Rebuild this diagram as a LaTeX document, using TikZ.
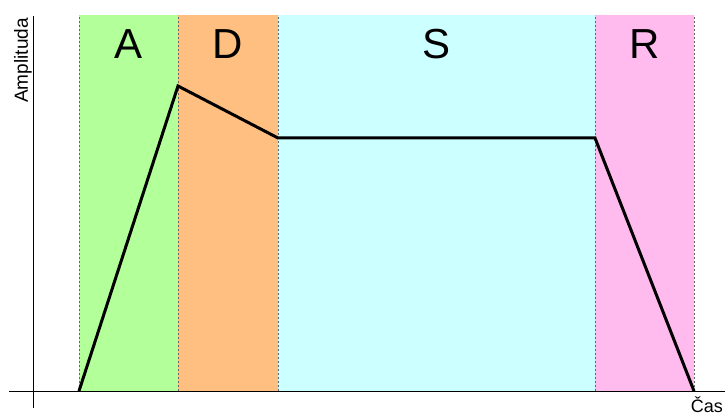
\documentclass[tikz,border=0pt]{standalone}
\usepackage{fontspec}
\setmainfont{Liberation Sans}
\usepackage{tikz}

\definecolor{attackgreen}{RGB}{179,255,153}
\definecolor{decayorange}{RGB}{255,191,128}
\definecolor{sustaincyan}{RGB}{204,255,255}
\definecolor{releasepink}{RGB}{255,187,238}

\tikzset{
  phaseedge/.style={gray!80!black, line width=0.6pt, dash pattern=on 2pt off 2pt},
  phaselabel/.style={anchor=base, inner sep=0pt, font=\fontsize{42}{48}\selectfont},
  axislabel/.style={inner sep=0pt, font=\fontsize{19}{22}\selectfont},
}

\begin{document}
\begin{tikzpicture}[x=1pt,y=1pt]
    \useasboundingbox (0,0) rectangle (725,414);
    % phases
    \fill[attackgreen] (79,23) rectangle (178,399);
    \fill[decayorange] (178,23) rectangle (278,399);
    \fill[sustaincyan] (278,23) rectangle (595,399);
    \fill[releasepink] (595,23) rectangle (694,399);
    \foreach \x in {79,178,278,595,694}
      \draw[phaseedge] (\x,23) -- (\x,399);
    \node[phaselabel] (attack) at (128.5,355) {A};
    \node[phaselabel] (decay) at (228,355) {D};
    \node[phaselabel] (sustain) at (436.5,355) {S};
    \node[phaselabel] (release) at (644.5,355) {R};
    % axes
    \draw[line width=0.9pt] (9,23) -- (725,23);
    \draw[line width=0.9pt] (33,6) -- (33,398);
    \node[axislabel, rotate=90, anchor=base east] (amplitude) at (28,396) {Amplituda};
    \node[axislabel, anchor=base east, font=\fontsize{18}{21}\selectfont] (time) at (723,1.5) {Čas};
    % envelope
    \coordinate (onset) at (79,23);
    \coordinate (peak) at (178,328);
    \coordinate (hold) at (278,276);
    \coordinate (letgo) at (595,276);
    \coordinate (silence) at (694,23);
    \draw[line width=3pt] (onset) -- (peak) -- (hold) -- (letgo) -- (silence);
\end{tikzpicture}
\end{document}
